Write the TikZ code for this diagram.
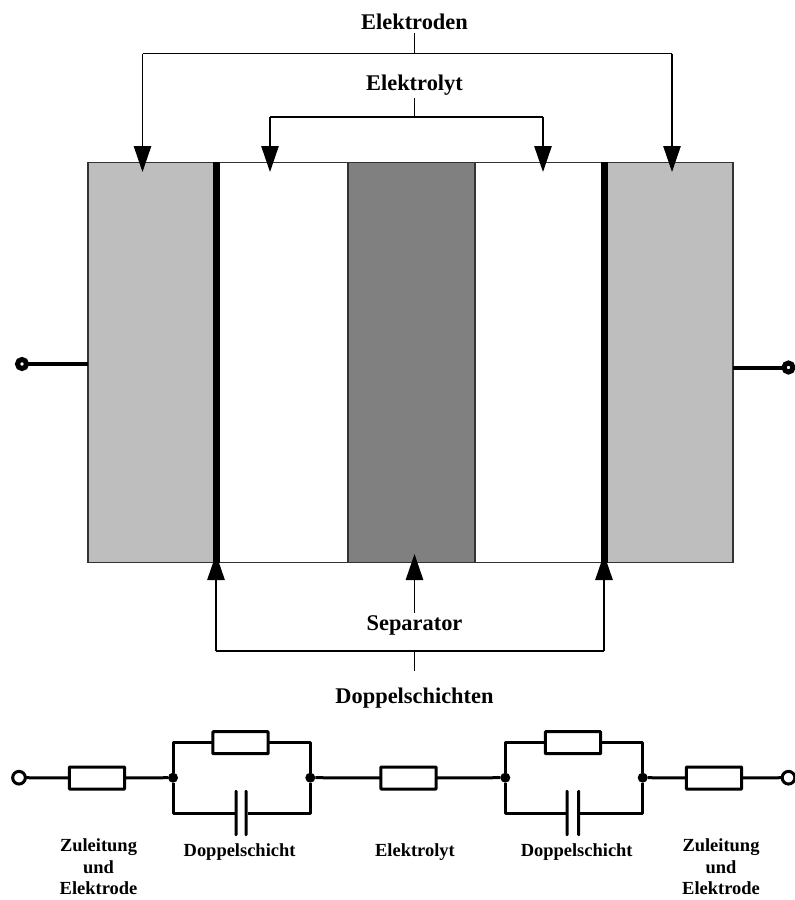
\documentclass[tikz,border=0pt]{standalone}
\usepackage{fontspec}
\setmainfont{Liberation Serif}
\usepackage{tikz}
\usetikzlibrary{arrows.meta}
\usetikzlibrary{calc}
\tikzset{every picture/.style={line width=0.75pt}}
\tikzset{
  cell/.style={draw=black!80,line width=0.9pt,rectangle,inner sep=0pt,outer sep=0pt,minimum height=300pt},
  layer/.style={fill=black,rectangle,inner sep=0pt,outer sep=0pt,minimum width=5.25pt,minimum height=300.5pt},
  bigtext/.style={font=\fontsize{16.8}{18}\selectfont\bfseries,inner sep=2pt,align=center},
  smalltext/.style={font=\fontsize{13.85}{15.4}\selectfont\bfseries,inner sep=0pt,align=center},
  bracket/.style={line width=1.2pt},
  pointer/.style={bracket,-{Triangle[length=19.5pt,width=13pt]}},
  lead/.style={line width=3pt},
  wire/.style={line width=2.25pt,line join=round},
  resistor/.style={draw,line width=2.25pt,fill=white,rectangle,rounded corners=0.5pt,inner sep=0pt,outer sep=0pt,minimum width=41.5pt,minimum height=16.5pt},
  plate/.style={fill=black,rectangle,rounded corners=0.8pt,inner sep=0pt,outer sep=0pt,minimum width=2.25pt,minimum height=34.5pt},
  junction/.style={fill=black,circle,inner sep=0pt,outer sep=0pt,minimum size=7.5pt},
  terminal/.style={draw,line width=2.25pt,fill=white,circle,inner sep=0pt,outer sep=0pt,minimum size=9.5pt},
  leadend/.style={draw,line width=3.75pt,fill=white,circle,inner sep=0pt,outer sep=0pt,minimum size=6.75pt}
}

\begin{document}
\begin{tikzpicture}[x=0.75pt,y=0.75pt,yscale=-1,xscale=1]
\clip (0,0) rectangle (795,900);

%Shape: Cell
\node [cell,minimum width=96pt,fill={rgb, 255:red, 190; green, 190; blue, 190}] (electrodeL) at (152,362.5) {};
\node [cell,minimum width=99pt,fill=white] (electrolyteL) at (282,362.5) {};
\node [cell,minimum width=95.25pt,fill={rgb, 255:red, 128; green, 128; blue, 128}] (separator) at (411.5,362.5) {};
\node [cell,minimum width=96.75pt,fill=white] (electrolyteR) at (539.5,362.5) {};
\node [cell,minimum width=96.75pt,fill={rgb, 255:red, 190; green, 190; blue, 190}] (electrodeR) at (668.5,362.5) {};
\node [layer] (layerL) at (216,362.5) {};
\node [layer] (layerR) at (604,362.5) {};

%Shape: Lead
\node [leadend] (leadL) at (22,364) {};
\node [leadend] (leadR) at (788.5,367.5) {};
\draw [lead] (leadL) -- (leadL -| electrodeL.west);
\draw [lead] (leadR) -- (leadR -| electrodeR.east);

% Text Node
\node [bigtext] (elektroden) at (414.5,22) {Elektroden};
\node [bigtext] (elektrolyt) at (414.5,85) {Elektrolyt};
\node [bigtext] (separatortext) at (414.5,625.5) {Separator};
\node [bigtext] (doppelschichten) at (414.5,698) {Doppelschichten};

%Straight Lines
\coordinate (outerL) at (142.5,53.5);
\coordinate (outerR) at (672,53.5);
\coordinate (innerL) at (270,117);
\coordinate (innerR) at (543,117);
\coordinate (lowerL) at (216,651);
\coordinate (lowerR) at (604,651);
\coordinate (lowerstem) at (414.5,671);
\draw [bracket] (elektroden.south) -- (elektroden.south |- outerL);
\draw [bracket] (outerL) -- (outerR);
\draw [pointer] (outerL) -- (142.5,172);
\draw [pointer] (outerR) -- (672,172);
\draw [bracket] (elektrolyt.south) -- (elektrolyt.south |- innerL);
\draw [bracket] (innerL) -- (innerR);
\draw [pointer] (innerL) -- (270,172);
\draw [pointer] (innerR) -- (543,172);
\draw [pointer] (separatortext.north) -- (414.5,554);
\draw [pointer] (lowerL) -- (216,554);
\draw [pointer] (lowerR) -- (604,554);
\draw [bracket] (lowerL) -- (lowerR);
\draw [bracket] (lowerL -| separatortext) -- (lowerstem);

%Shape: Circuit
\node [terminal] (termL) at (19,777.7) {};
\node [resistor] (leadresL) at (97,778) {};
\node [junction] (j1) at (173,777.7) {};
\node [resistor] (parresL) at (240.5,742.7) {};
\node [plate] (capLa) at (236,813) {};
\node [plate] (capLb) at (246,813) {};
\node [junction] (j2) at (310.3,777.7) {};
\node [resistor] (elres) at (408.5,778) {};
\node [junction] (j3) at (505.3,777.7) {};
\node [resistor] (parresR) at (573,742.7) {};
\node [plate] (capRa) at (567,813) {};
\node [plate] (capRb) at (578.7,813) {};
\node [junction] (j4) at (642.7,777.7) {};
\node [resistor] (leadresR) at (714,778) {};
\node [terminal] (termR) at (788.5,777.7) {};

\draw [wire] (termL) -- (leadresL);
\draw [wire] (leadresL) -- (j1);
\draw [wire] (j1) |- (parresL);
\draw [wire] (parresL) -| (j2);
\draw [wire] (j1) |- (capLa);
\draw [wire] (capLb) -| (j2);
\draw [wire] (j2) -- (elres);
\draw [wire] (elres) -- (j3);
\draw [wire] (j3) |- (parresR);
\draw [wire] (parresR) -| (j4);
\draw [wire] (j3) |- (capRa);
\draw [wire] (capRb) -| (j4);
\draw [wire] (j4) -- (leadresR);
\draw [wire] (leadresR) -- (termR);

% Text Node
\node [smalltext] (zuleitungL) at (98.5,867) {Zuleitung\\[0.6pt]und\\[0.6pt]Elektrode};
\node [smalltext] (doppelL) at (239.6,852.5) {Doppelschicht};
\node [smalltext] (elektrolytR) at (415,852.5) {Elektrolyt};
\node [smalltext] (doppelR) at (576.7,852.5) {Doppelschicht};
\node [smalltext] (zuleitungR) at (721,867) {Zuleitung\\[0.6pt]und\\[0.6pt]Elektrode};

\end{tikzpicture}
\end{document}
